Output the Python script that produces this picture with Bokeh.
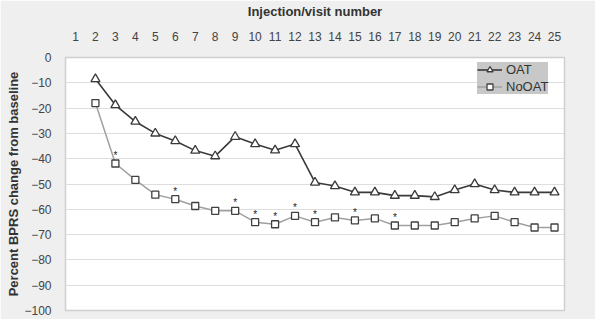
from bokeh.plotting import figure
from bokeh.models import Range1d, FixedTicker, LinearAxis, Legend, LegendItem, ColumnDataSource
from bokeh.core.properties import value
from bokeh.embed import file_html
from bokeh.resources import INLINE

# ---- data ----
visits = list(range(2, 26))
oat = [-8.5, -18.8, -25.3, -30.0, -33.0, -36.8, -39.0, -31.3, -34.2, -36.7, -34.2,
       -49.4, -50.8, -53.3, -53.3, -54.6, -54.6, -55.1, -52.4, -50.0, -52.4,
       -53.3, -53.3, -53.3]
nooat = [-18.0, -41.9, -48.4, -54.2, -56.0, -58.7, -60.6, -60.6, -65.1, -65.9, -62.6,
         -65.1, -63.2, -64.4, -63.6, -66.4, -66.4, -66.4, -65.1, -63.6, -62.6,
         -65.1, -67.2, -67.2]
sig_visits = [3, 6, 9, 10, 11, 12, 13, 15, 17]
x_ticks = list(range(1, 26))
y_ticks = list(range(-100, 1, 10))
x_title = "Injection/visit number"
y_title = "Percent BPRS change from baseline"

FONT = "Liberation Sans"

p = figure(width=595, height=319, output_backend="svg", toolbar_location=None,
           x_range=Range1d(0.5, 25.5), y_range=Range1d(-100, 0),
           x_axis_location=None, y_axis_location=None,
           min_border_left=65, min_border_right=31, min_border_top=52, min_border_bottom=9)
p.border_fill_color = "#efefef"
p.background_fill_color = "white"
p.outline_line_color = "#cfcfcf"
p.outline_line_width = 1.5

# top axis
xa = LinearAxis(ticker=FixedTicker(ticks=x_ticks), axis_label=x_title)
xa.axis_line_color = None
xa.major_tick_line_color = None
xa.minor_tick_line_color = None
xa.major_label_standoff = 11
xa.axis_label_standoff = 10
xa.major_label_text_font = FONT
xa.major_label_text_font_size = "12px"
xa.major_label_text_color = "#444444"
xa.axis_label_text_font = FONT
xa.axis_label_text_font_size = "13px"
xa.axis_label_text_font_style = "bold"
xa.axis_label_text_color = "#333333"
p.add_layout(xa, "above")

# left axis
ya = LinearAxis(ticker=FixedTicker(ticks=y_ticks), axis_label=y_title)
ya.axis_line_color = None
ya.major_tick_line_color = None
ya.minor_tick_line_color = None
ya.major_label_standoff = 8
ya.axis_label_standoff = 0
ya.major_label_text_font = FONT
ya.major_label_text_font_size = "12px"
ya.major_label_text_color = "#444444"
ya.axis_label_text_font = FONT
ya.axis_label_text_font_size = "13px"
ya.axis_label_text_font_style = "bold"
ya.axis_label_text_color = "#333333"
p.add_layout(ya, "left")

p.xgrid.grid_line_color = None
p.ygrid.ticker = FixedTicker(ticks=y_ticks)
p.ygrid.grid_line_color = "#dedede"
p.ygrid.grid_line_width = 1

src = ColumnDataSource(dict(x=visits, oat=oat, nooat=nooat))

l2 = p.line("x", "nooat", source=src, line_color="#a0a0a0", line_width=1.5)
s2 = p.scatter("x", "nooat", source=src, marker="square", size=7,
               fill_color="white", line_color="#404040", line_width=1.3)
l1 = p.line("x", "oat", source=src, line_color="#3a3a3a", line_width=1.6)
s1 = p.scatter("x", "oat", source=src, marker="triangle", size=9,
               fill_color="white", line_color="#3a3a3a", line_width=1.3)

sig_y = [nooat[visits.index(v)] for v in sig_visits]
p.text(x=sig_visits, y=sig_y, text=["*"] * len(sig_visits), y_offset=-8,
       text_align="center", text_baseline="middle", text_font=value(FONT),
       text_font_size="10px", text_color="#222222")

legend = Legend(items=[LegendItem(label="OAT", renderers=[l1, s1]),
                       LegendItem(label="NoOAT", renderers=[l2, s2])],
                location=(412, 216))
legend.background_fill_color = "#c8c8c8"
legend.background_fill_alpha = 1.0
legend.border_line_color = None
legend.label_text_font = FONT
legend.label_text_font_size = "13px"
legend.label_text_color = "#333333"
legend.glyph_width = 25
legend.glyph_height = 15
legend.label_standoff = 4
legend.padding = 7
legend.spacing = 2
legend.margin = 0
p.add_layout(legend, "center")

open("out.html", "w").write(file_html(p, INLINE))
